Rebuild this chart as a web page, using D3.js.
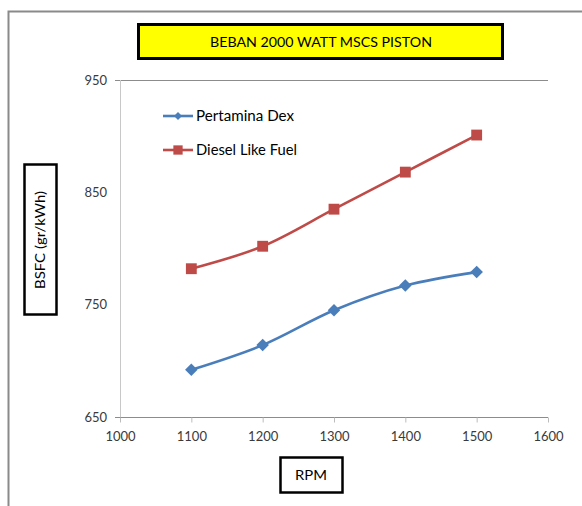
<!DOCTYPE html>
<html>
<head>
<meta charset="utf-8">
<script src="https://cdn.jsdelivr.net/npm/d3@7"></script>
<style>
  body { margin: 0; background: #fff; }
  svg { display: block; font-family: Lato, "Open Sans", sans-serif; }
</style>
</head>
<body>
<div class="chart"></div>
<script>
// values
const rpm = [1100, 1200, 1300, 1400, 1500];
const pertaminaDex = [692, 714, 745, 767, 779];
const dieselLikeFuel = [782, 802, 835, 868, 901];
const seriesNames = ["Pertamina Dex", "Diesel Like Fuel"];
const xTicks = [1000, 1100, 1200, 1300, 1400, 1500, 1600];
const yTicks = [650, 750, 850, 950];
const titleText = "BEBAN 2000 WATT MSCS PISTON";
const xLabel = "RPM";
const yLabel = "BSFC (gr/kWh)";

const W = 582, H = 506;
const plot = {left: 120, right: 548, top: 80, bottom: 417};

let svg = d3.select(".chart").append("svg")
    .attr("width", W)
    .attr("height", H);

// outer frame (runs off the right and bottom)
svg.append("path")
    .attr("d", "M8.5," + (H + 2) + "V11.5H" + (W + 2))
    .attr("fill", "none")
    .attr("stroke", "#8a8a8a")
    .attr("stroke-width", 2);

let x = d3.scaleLinear().domain([1000, 1600]).range([plot.left, plot.right]);
let y = d3.scaleLinear().domain([650, 950]).range([plot.bottom, plot.top]);

// top gridline at 950
svg.append("line")
    .attr("x1", 115).attr("x2", plot.right)
    .attr("y1", y(950) + 0.5).attr("y2", y(950) + 0.5)
    .attr("stroke", "#8c8c8c");

// y axis line
svg.append("line")
    .attr("x1", plot.left + 0.5).attr("x2", plot.left + 0.5)
    .attr("y1", plot.top).attr("y2", plot.bottom)
    .attr("stroke", "#c8c8c8");

// x axis
let xAxis = svg.append("g")
    .attr("transform", "translate(0," + (plot.bottom + 0.5) + ")")
    .call(d3.axisBottom(x).tickValues(xTicks).tickFormat(d3.format("d")).tickSize(5).tickPadding(9));
xAxis.select(".domain").attr("stroke", "#8c8c8c").attr("d", "M115,0H" + plot.right);
xAxis.selectAll(".tick line").attr("stroke", "#bcbcbc");
xAxis.selectAll("text").attr("font-size", 13).attr("fill", "#3a3a3a")
    .attr("font-family", "Lato, sans-serif");

// y tick labels
svg.append("g").selectAll("text")
    .data(yTicks)
    .join("text")
    .attr("x", 107)
    .attr("y", d => y(d))
    .attr("dy", "0.35em")
    .attr("text-anchor", "end")
    .attr("font-size", 13)
    .attr("fill", "#3a3a3a")
    .text(d => d);

// series
let series = [
    {name: seriesNames[0], values: pertaminaDex, color: "#4a7ebb", symbol: d3.symbolDiamond2, size: 100},
    {name: seriesNames[1], values: dieselLikeFuel, color: "#be4b48", symbol: d3.symbolSquare2, size: 150}
];

let line = d3.line()
    .x(d => x(d[0]))
    .y(d => y(d[1]))
    .curve(d3.curveCatmullRom.alpha(0.5));

series.forEach(s => {
    let pts = rpm.map((r, i) => [r, s.values[i]]);
    svg.append("path")
        .datum(pts)
        .attr("fill", "none")
        .attr("stroke", s.color)
        .attr("stroke-width", 2.6)
        .attr("d", line);
    svg.append("g").selectAll("path")
        .data(pts)
        .join("path")
        .attr("transform", d => "translate(" + x(d[0]) + "," + y(d[1]) + ")")
        .attr("d", d3.symbol().type(s.symbol).size(s.size))
        .attr("fill", s.color);
});

// legend
let legend = svg.append("g");
series.forEach((s, i) => {
    let ly = 116 + i * 34;
    legend.append("line")
        .attr("x1", 163).attr("x2", 193)
        .attr("y1", ly).attr("y2", ly)
        .attr("stroke", s.color)
        .attr("stroke-width", 2.6);
    legend.append("path")
        .attr("transform", "translate(178," + ly + ")")
        .attr("d", d3.symbol().type(s.symbol).size(i === 0 ? 40 : 110))
        .attr("fill", s.color);
    legend.append("text")
        .attr("x", 196)
        .attr("y", ly)
        .attr("dy", "0.35em")
        .attr("font-size", 14.5)
        .attr("fill", "#000")
        .attr("textLength", i === 0 ? 98 : 101)
        .attr("lengthAdjust", "spacingAndGlyphs")
        .text(s.name);
});

// title box
svg.append("rect")
    .attr("x", 138.5).attr("y", 24.5)
    .attr("width", 364).attr("height", 34)
    .attr("fill", "#ffff00")
    .attr("stroke", "#000")
    .attr("stroke-width", 3);
svg.append("text")
    .attr("x", 321).attr("y", 42)
    .attr("dy", "0.35em")
    .attr("text-anchor", "middle")
    .attr("font-size", 13.5)
    .attr("textLength", 222)
    .attr("lengthAdjust", "spacingAndGlyphs")
    .text(titleText);

// x label box
svg.append("rect")
    .attr("x", 280.5).attr("y", 457.5)
    .attr("width", 62).attr("height", 35)
    .attr("fill", "#fff")
    .attr("stroke", "#000")
    .attr("stroke-width", 2.5);
svg.append("text")
    .attr("x", 311).attr("y", 475)
    .attr("dy", "0.35em")
    .attr("text-anchor", "middle")
    .attr("font-size", 14)
    .attr("textLength", 32)
    .attr("lengthAdjust", "spacingAndGlyphs")
    .text(xLabel);

// y label box
svg.append("rect")
    .attr("x", 24.5).attr("y", 164.5)
    .attr("width", 32).attr("height", 150)
    .attr("fill", "#fff")
    .attr("stroke", "#000")
    .attr("stroke-width", 2.5);
svg.append("text")
    .attr("transform", "translate(40.5,240) rotate(-90)")
    .attr("dy", "0.35em")
    .attr("text-anchor", "middle")
    .attr("font-size", 14)
    .attr("textLength", 98)
    .attr("lengthAdjust", "spacingAndGlyphs")
    .text(yLabel);
</script>
</body>
</html>
